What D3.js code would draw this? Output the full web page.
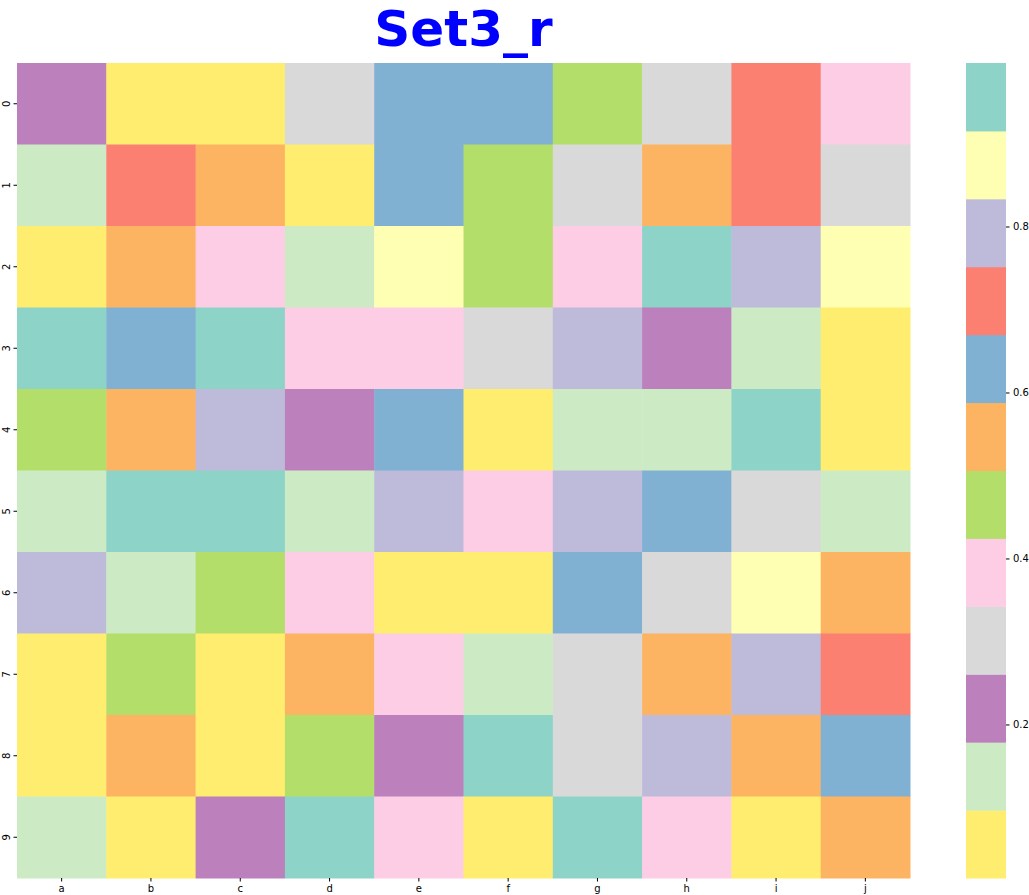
<!DOCTYPE html>
<html><head><meta charset="utf-8">
<script src="https://cdn.jsdelivr.net/npm/d3@7"></script>
<style>body{margin:0;background:#fff;} svg{display:block;}</style>
</head><body>
<svg id="chart" width="1029" height="895"></svg>
<script>
const columns = ["a","b","c","d","e","f","g","h","i","j"];
const rows = ["0","1","2","3","4","5","6","7","8","9"];
// Estimated cell values (read from colour bands, band midpoints)
const row0 = [0.22,0.06,0.06,0.30,0.63,0.63,0.47,0.30,0.71,0.38];
const row1 = [0.14,0.71,0.55,0.06,0.63,0.47,0.30,0.55,0.71,0.30];
const row2 = [0.06,0.55,0.38,0.14,0.87,0.47,0.38,0.96,0.79,0.87];
const row3 = [0.96,0.63,0.96,0.38,0.38,0.30,0.79,0.22,0.14,0.06];
const row4 = [0.47,0.55,0.79,0.22,0.63,0.06,0.14,0.14,0.96,0.06];
const row5 = [0.14,0.96,0.96,0.14,0.79,0.38,0.79,0.63,0.30,0.14];
const row6 = [0.79,0.14,0.47,0.38,0.06,0.06,0.63,0.30,0.87,0.55];
const row7 = [0.06,0.47,0.06,0.55,0.38,0.14,0.30,0.55,0.79,0.71];
const row8 = [0.06,0.55,0.06,0.47,0.22,0.96,0.30,0.79,0.55,0.63];
const row9 = [0.14,0.06,0.22,0.96,0.38,0.06,0.96,0.38,0.06,0.55];
const values = [row0,row1,row2,row3,row4,row5,row6,row7,row8,row9];
const colorDomain = [0.015, 0.997];
const colorbarTicks = [0.2, 0.4, 0.6, 0.8];
const set3 = ["#8dd3c7","#ffffb3","#bebada","#fb8072","#80b1d3","#fdb462","#b3de69","#fccde5","#d9d9d9","#bc80bd","#ccebc5","#ffed6f"];
const set3_r = set3.slice().reverse();

(function(){
const svg = d3.select("#chart");
const mL = 17, mR = 910, mT = 63, mB = 878;
const x = d3.scaleBand().domain(columns).range([mL, mR]).padding(0);
const y = d3.scaleBand().domain(rows).range([mT, mB]).padding(0);
const color = d3.scaleQuantize().domain(colorDomain).range(set3_r);

const cells = [];
values.forEach((r, i) => r.forEach((v, j) => cells.push({row: rows[i], col: columns[j], v})));
svg.append("g").selectAll("rect").data(cells).join("rect")
  .attr("x", d => x(d.col)).attr("y", d => y(d.row))
  .attr("width", x.bandwidth() + 0.5).attr("height", y.bandwidth() + 0.5)
  .attr("fill", d => color(d.v));

const font = "DejaVu Sans, sans-serif";
const xa = svg.append("g").attr("transform", `translate(0,${mB})`)
  .call(d3.axisBottom(x).tickSize(3.5).tickPadding(3.5));
xa.select(".domain").remove();
xa.selectAll("text").attr("font-size", 10).attr("font-family", font).attr("fill", "#000");
const ya = svg.append("g").attr("transform", `translate(${mL},0)`)
  .call(d3.axisLeft(y).tickSize(3.5).tickPadding(3.5));
ya.select(".domain").remove();
ya.selectAll("text").attr("font-size", 10).attr("font-family", font).attr("fill", "#000")
  .attr("text-anchor", "middle").attr("dy", null)
  .attr("transform", "translate(-11,0) rotate(-90)")
  .attr("x", 0).attr("y", 0).attr("dominant-baseline", "central");

const cbL = 966, cbR = 1006;
const cy = d3.scaleLinear().domain(colorDomain).range([mB, mT]);
const bands = set3_r.map(c => {
  const [a, b] = color.invertExtent(c);
  return {c, a, b};
});
svg.append("g").selectAll("rect").data(bands).join("rect")
  .attr("x", cbL).attr("width", cbR - cbL)
  .attr("y", d => cy(d.b)).attr("height", d => cy(d.a) - cy(d.b) + 0.5)
  .attr("fill", d => d.c);
const ca = svg.append("g").attr("transform", `translate(${cbR},0)`)
  .call(d3.axisRight(cy).tickValues(colorbarTicks).tickFormat(d3.format(".1f")).tickSize(3.5).tickPadding(3.5));
ca.select(".domain").remove();
ca.selectAll("text").attr("font-size", 10).attr("font-family", font).attr("fill", "#000");

svg.append("text").attr("x", (mL + mR) / 2).attr("y", 46)
  .attr("text-anchor", "middle")
  .attr("font-family", "'Comic Sans MS', 'DejaVu Sans', sans-serif")
  .attr("font-weight", "bold").attr("font-size", 50).attr("fill", "#0000ff")
  .text("Set3_r");
})();
</script>
</body></html>
